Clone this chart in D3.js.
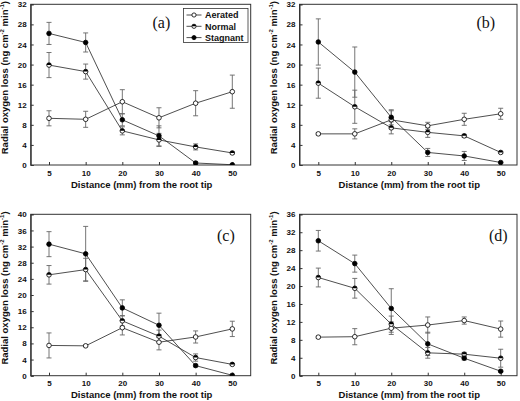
<!DOCTYPE html>
<html><head><meta charset="utf-8">
<script src="https://cdn.jsdelivr.net/npm/d3@7"></script>
<style>body{margin:0;background:#fff}svg{display:block}</style>
</head><body>
<svg id="chart" width="520" height="401"></svg>
<script>
const categories = ["5","10","20","30","40","50"];
const seriesNames = ["Aerated","Normal","Stagnant"];
const panelLabels = ["(a)","(b)","(c)","(d)"];
const yMaxes = [32,32,40,36];

// Panel (a)
const aeratedA = [9.3, 9.1, 12.6, 9.4, 12.3, 14.6];
const aeratedErrA = [1.5, 1.6, 2.4, 2.0, 2.5, 3.3];
const normalA = [19.9, 18.6, 6.8, 5.0, 3.6, 2.4];
const normalErrA = [2.5, 1.5, 0.8, 1.3, 0.6, 0.2];
const stagnantA = [26.2, 24.4, 9.0, 5.8, 0.4, 0.05];
const stagnantErrA = [2.2, 1.9, 1.2, 2.0, 0.2, 0];
// Panel (b)
const aeratedB = [6.2, 6.2, 9.0, 7.8, 9.1, 10.2];
const aeratedErrB = [0.2, 1.0, 1.8, 0.7, 1.2, 1.1];
const normalB = [16.3, 11.6, 7.4, 6.5, 5.8, 2.5];
const normalErrB = [3.0, 3.3, 1.2, 1.0, 0.3, 0.2];
const stagnantB = [24.5, 18.5, 9.5, 2.5, 1.8, 0.5];
const stagnantErrB = [4.6, 5.0, 1.5, 0.8, 0.9, 0.1];
// Panel (c)
const aeratedC = [7.5, 7.4, 11.9, 8.3, 9.6, 11.6];
const aeratedErrC = [3.1, 0.2, 1.8, 1.9, 1.5, 1.9];
const normalC = [25.0, 26.3, 13.6, 9.8, 4.5, 2.8];
const normalErrC = [2.3, 2.8, 1.3, 1.5, 0.9, 0.2];
const stagnantC = [32.6, 30.2, 16.8, 12.5, 2.5, 0.1];
const stagnantErrC = [3.1, 6.8, 2.0, 3.0, 0.3, 0];
// Panel (d)
const aeratedD = [8.6, 8.7, 10.6, 11.3, 12.3, 10.4];
const aeratedErrD = [0.2, 1.8, 1.4, 1.8, 0.8, 1.8];
const normalD = [21.9, 19.5, 11.5, 5.1, 4.8, 3.9];
const normalErrD = [2.1, 2.2, 1.8, 1.2, 0.4, 2.0];
const stagnantD = [30.1, 25.0, 15.0, 7.1, 3.9, 1.0];
const stagnantErrD = [2.3, 1.9, 4.4, 2.6, 0.4, 0.2];

const panelData = [
  [[aeratedA, aeratedErrA],[normalA, normalErrA],[stagnantA, stagnantErrA]],
  [[aeratedB, aeratedErrB],[normalB, normalErrB],[stagnantB, stagnantErrB]],
  [[aeratedC, aeratedErrC],[normalC, normalErrC],[stagnantC, stagnantErrC]],
  [[aeratedD, aeratedErrD],[normalD, normalErrD],[stagnantD, stagnantErrD]]
];

const layouts = [
  {l:30.7, r:250.7, t:4.3, b:165, x0:49, x1:232.3, lx:152.5, ly:28},
  {l:299.5, r:517, t:4.3, b:165, x0:318.3, x1:500.7, lx:476.5, ly:28},
  {l:30.7, r:250.7, t:214.3, b:375.7, x0:49, x1:232.3, lx:217, ly:240.5},
  {l:299.5, r:517, t:214.3, b:375.7, x0:318.3, x1:500.7, lx:489, ly:240.5}
];

const svg = d3.select("#chart");
const defs = svg.append("defs");
const font = "Arial, 'Liberation Sans', sans-serif";

function marker(g, type, cx, cy, r) {
  if (type === 0) {
    g.append("circle").attr("cx",cx).attr("cy",cy).attr("r",r)
      .attr("fill","#fff").attr("stroke","#000").attr("stroke-width",0.8);
  } else if (type === 1) {
    g.append("circle").attr("cx",cx).attr("cy",cy).attr("r",r)
      .attr("fill","#fff").attr("stroke","#000").attr("stroke-width",0.8);
    g.append("path")
      .attr("d",`M${cx-r},${cy} A${r},${r} 0 0 1 ${cx+r},${cy} Z`)
      .attr("fill","#000");
  } else {
    g.append("circle").attr("cx",cx).attr("cy",cy).attr("r",r)
      .attr("fill","#000").attr("stroke","#000").attr("stroke-width",0.8);
  }
}

layouts.forEach((L, pi) => {
  const x = d3.scalePoint().domain(categories).range([L.x0, L.x1]);
  const y = d3.scaleLinear().domain([0, yMaxes[pi]]).range([L.b, L.t]);
  const g = svg.append("g");

  defs.append("clipPath").attr("id","clip"+pi).append("rect")
    .attr("x",L.l).attr("y",L.t).attr("width",L.r-L.l).attr("height",L.b-L.t);

  // frame
  g.append("rect").attr("x",L.l).attr("y",L.t).attr("width",L.r-L.l).attr("height",L.b-L.t)
    .attr("fill","none").attr("stroke","#333").attr("stroke-width",1);

  // y axis
  const ticks = d3.range(0, yMaxes[pi]+0.1, 4);
  const ya = g.append("g").attr("transform",`translate(${L.l},0)`)
    .call(d3.axisLeft(y).tickValues(ticks).tickSize(-3).tickPadding(4).tickFormat(d3.format("d")));
  ya.select(".domain").attr("stroke","#333");
  ya.selectAll(".tick line").attr("stroke","#333");
  ya.selectAll("text").attr("font-family",font).attr("font-weight","bold").attr("font-size",8).attr("fill","#111");

  // x axis
  const xa = g.append("g").attr("transform",`translate(0,${L.b})`)
    .call(d3.axisBottom(x).tickSize(-3).tickPadding(5));
  xa.select(".domain").remove();
  xa.selectAll(".tick line").attr("stroke","#333");
  xa.selectAll("text").attr("font-family",font).attr("font-weight","bold").attr("font-size",8).attr("fill","#111");

  // axis titles
  g.append("text").attr("x",(L.l+L.r)/2+1).attr("y",L.b+22.5).attr("text-anchor","middle")
    .attr("font-family",font).attr("font-weight","bold").attr("font-size",9.5).attr("fill","#111")
    .text("Distance (mm) from the root tip");
  const yt = g.append("text")
    .attr("transform",`translate(${L.l-22.5},${(L.t+L.b)/2-7}) rotate(-90)`)
    .attr("text-anchor","middle")
    .attr("font-family",font).attr("font-weight","bold").attr("font-size",9.5).attr("fill","#111");
  yt.append("tspan").text("Radial oxygen loss (ng cm");
  yt.append("tspan").attr("font-size",6).attr("dy",-4).text("-2");
  yt.append("tspan").attr("dy",4).text(" min");
  yt.append("tspan").attr("font-size",6).attr("dy",-4).text("-1");
  yt.append("tspan").attr("dy",4).text(")");

  // panel label
  g.append("text").attr("x",L.lx).attr("y",L.ly)
    .attr("font-family","'Times New Roman', 'Liberation Serif', serif").attr("font-size",16).attr("fill","#111")
    .text(panelLabels[pi]);

  const plot = g.append("g").attr("clip-path",`url(#clip${pi})`);
  const line = d3.line().x((d,i)=>x(categories[i])).y(d=>y(d));

  panelData[pi].forEach(([vals, errs], si) => {
    // error bars
    vals.forEach((v,i) => {
      const e = errs[i];
      if (e <= 0) return;
      const cx = x(categories[i]);
      plot.append("line").attr("x1",cx).attr("x2",cx).attr("y1",y(v-e)).attr("y2",y(v+e))
        .attr("stroke","#666").attr("stroke-width",0.9);
      [v-e, v+e].forEach(yy => {
        plot.append("line").attr("x1",cx-2.5).attr("x2",cx+2.5).attr("y1",y(yy)).attr("y2",y(yy))
          .attr("stroke","#666").attr("stroke-width",0.9);
      });
    });
  });
  panelData[pi].forEach(([vals, errs], si) => {
    plot.append("path").datum(vals).attr("d",line).attr("fill","none")
      .attr("stroke","#222").attr("stroke-width",0.8);
  });
  panelData[pi].forEach(([vals, errs], si) => {
    vals.forEach((v,i) => marker(plot, si, x(categories[i]), y(v), 2.3));
  });

  // legend in panel (a)
  if (pi === 0) {
    const lg = g.append("g");
    lg.append("rect").attr("x",183.5).attr("y",8.5).attr("width",64.5).attr("height",34)
      .attr("fill","#fff").attr("stroke","#333").attr("stroke-width",0.8);
    seriesNames.forEach((name, si) => {
      const yy = 15 + si*11.3;
      lg.append("line").attr("x1",186.5).attr("x2",201.5).attr("y1",yy).attr("y2",yy)
        .attr("stroke","#222").attr("stroke-width",0.8);
      marker(lg, si, 194, yy, 2.1);
      lg.append("text").attr("x",205).attr("y",yy+3.2)
        .attr("font-family",font).attr("font-weight","bold").attr("font-size",9).attr("fill","#111")
        .text(name);
    });
  }
});
</script>
</body></html>
